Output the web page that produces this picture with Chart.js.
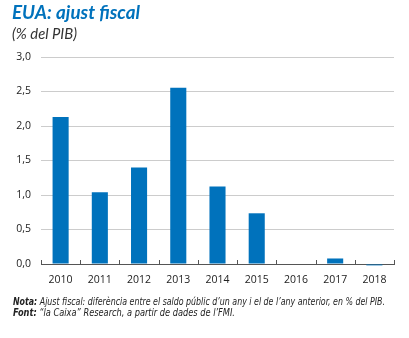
<!DOCTYPE html>
<html><head><meta charset="utf-8">
<script src="https://cdn.jsdelivr.net/npm/chart.js@4"></script>
<style>
html,body{margin:0;padding:0;background:#fff;width:409px;height:338px;overflow:hidden;}
#wrap{position:absolute;left:0;top:0;width:409px;height:338px;}
.t{position:absolute;white-space:nowrap;transform-origin:0 0;}
#title{left:12px;top:1px;font:italic bold 19px Lato, "Open Sans", sans-serif;color:#0072bc;line-height:22px;}
#sub{left:12px;top:25px;font:italic 14.5px Lato, "Open Sans", sans-serif;color:#333;line-height:18px;}
.note{left:13px;font:italic 10.5px "Liberation Sans Narrow","DejaVu Sans Condensed",sans-serif;color:#222;line-height:12px;}
.note b{font-weight:bold;}
#n1{top:295px;}
#n2{top:306px;}
</style></head>
<body>
<div id="wrap"><canvas id="c" width="409" height="338"></canvas></div>
<div class="t" id="title" data-w="128">EUA: ajust fiscal</div>
<div class="t" id="sub" data-w="65">(% del PIB)</div>
<div class="t note" id="n1" data-w="372"><b>Nota:</b> Ajust fiscal: diferència entre el saldo públic d’un any i el de l’any anterior, en % del PIB.</div>
<div class="t note" id="n2" data-w="222"><b>Font:</b> “la Caixa” Research, a partir de dades de l’FMI.</div>
<script>
const categories = ['2010','2011','2012','2013','2014','2015','2016','2017','2018'];
const ajustFiscal = [2.13, 1.04, 1.40, 2.555, 1.125, 0.735, 0, 0.08, -0.02];
const yTicks = [0, 0.5, 1.0, 1.5, 2.0, 2.5, 3.0];

document.querySelectorAll('.t').forEach(el=>{
  const target = parseFloat(el.dataset.w);
  const w = el.getBoundingClientRect().width;
  if (w>0) el.style.transform = 'scaleX(' + (target/w) + ')';
});

const upTicks = {
  id:'upTicks',
  afterDraw(chart){
    const s = chart.scales.x, ctx = chart.ctx;
    const n = categories.length;
    ctx.save();
    ctx.strokeStyle = '#555';
    ctx.lineWidth = 1;
    ctx.beginPath();
    for (let i=0;i<=n;i++){
      const x = Math.round(s.left + i*(s.right - s.left)/n) + 0.5;
      ctx.moveTo(x, s.top - 4);
      ctx.lineTo(x, s.top + 0.5);
    }
    ctx.stroke();
    ctx.restore();
  }
};

new Chart(document.getElementById('c'), {
  type:'bar',
  data:{
    labels:categories,
    datasets:[{
      data:ajustFiscal,
      backgroundColor:'#0072bc',
      borderWidth:0,
      categoryPercentage:1,
      barPercentage:0.41,
      clip:false
    }]
  },
  options:{
    responsive:false,
    animation:false,
    devicePixelRatio:1,
    layout:{padding:{top:57,right:15,left:0,bottom:0}},
    plugins:{legend:{display:false},tooltip:{enabled:false},title:{display:false}},
    scales:{
      x:{
        grid:{display:true,drawOnChartArea:false,drawTicks:false,offset:true},
        border:{display:true,color:'#555',width:1},
        ticks:{color:'#222',padding:10,font:{family:'"Open Sans", sans-serif',size:10.5}},
        afterFit(s){ s.height = 74; }
      },
      y:{
        min:0,max:3,
        afterBuildTicks(s){ s.ticks = yTicks.map(v=>({value:v})); },
        grid:{color:'#cccccc',lineWidth:1,drawTicks:false},
        border:{display:false},
        ticks:{color:'#222',padding:10,font:{family:'"Open Sans", sans-serif',size:10.5},
          callback:v=>v.toFixed(1).replace('.',',')},
        afterFit(s){ s.width = 41; }
      }
    }
  },
  plugins:[upTicks]
});
</script>
</body></html>
